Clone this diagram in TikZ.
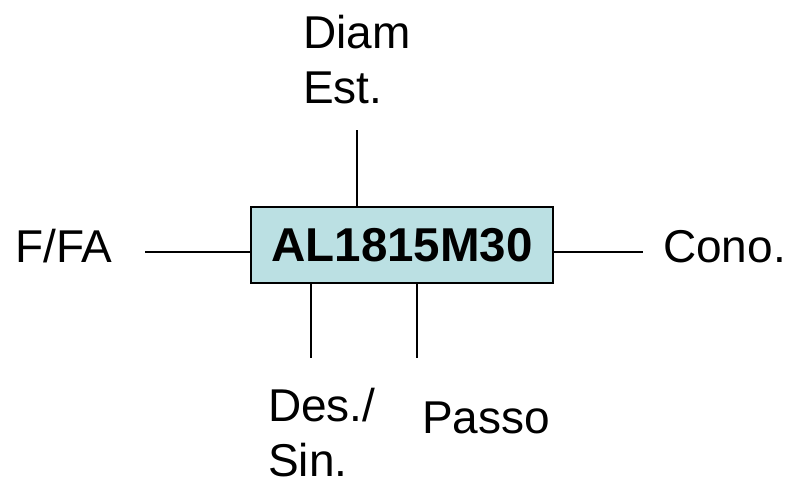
\documentclass[tikz,border=0pt]{standalone}
\usepackage{fontspec}
\setmainfont{Liberation Sans}
\definecolor{boxcyan}{HTML}{BBE0E3}

\begin{document}
\begin{tikzpicture}[x=1pt, y=-1pt,
    lbl/.style={font=\fontsize{46}{55}\selectfont, inner sep=0pt, align=left},
    wire/.style={line width=1.2pt}]
    \useasboundingbox (0,0) rectangle (794,483);
    \node [draw, line width=1.6pt, fill=boxcyan, minimum width=302pt, minimum height=76pt,
        font=\bfseries\fontsize{47.5}{55}\selectfont] (code) at (402,245) {AL1815M30};
    \node [lbl, anchor=north west] (diam) at (303,15) {Diam\\Est.};
    \node [lbl, anchor=base west] (ffa) at (15,262) {F/FA};
    \node [lbl, anchor=base west] (cono) at (663,262) {Cono.};
    \node [lbl, anchor=north west] (dessin) at (268,388) {Des./\\Sin.};
    \node [lbl, anchor=base west] (passo) at (422,433) {Passo};
    \coordinate (lend) at (145,252);
    \coordinate (rend) at (643,252);
    \coordinate (tend) at (357,130);
    \coordinate (b1end) at (311,358);
    \coordinate (b2end) at (417,358);
    \draw [wire] (lend) -- (code.west |- lend);
    \draw [wire] (code.east |- rend) -- (rend);
    \draw [wire] (tend) -- (tend |- code.north);
    \draw [wire] (b1end |- code.south) -- (b1end);
    \draw [wire] (b2end |- code.south) -- (b2end);
\end{tikzpicture}
\end{document}
